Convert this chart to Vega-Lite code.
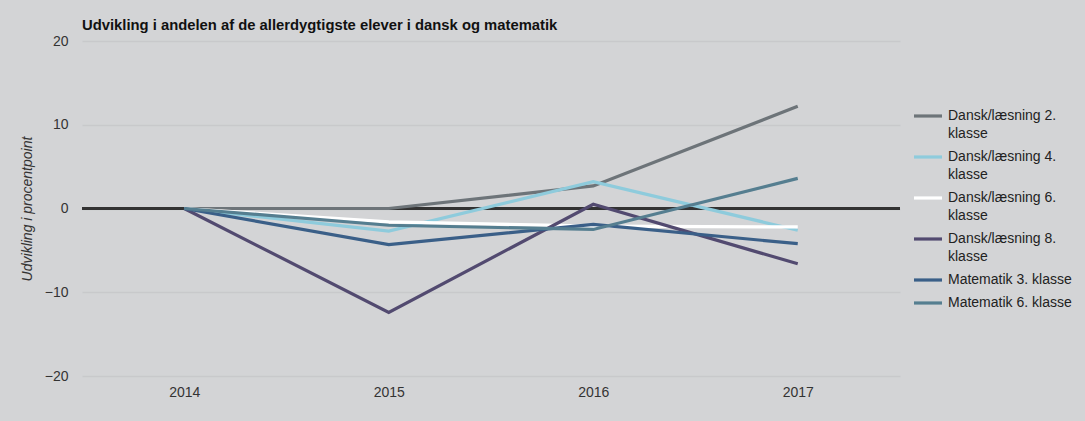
{
  "$schema": "https://vega.github.io/schema/vega-lite/v6.json",
  "width": 818,
  "height": 335,
  "autosize": {"type": "none"},
  "padding": {"left": 82, "top": 41, "right": 185, "bottom": 45},
  "background": "#d3d4d6",
  "title": {
    "text": "Udvikling i andelen af de allerdygtigste elever i dansk og matematik",
    "anchor": "start",
    "frame": "group",
    "font": "Liberation Sans",
    "fontSize": 14.8,
    "fontWeight": "bold",
    "color": "#111111",
    "offset": 1
  },
  "config": {
    "view": {"stroke": null},
    "style": {"guide-label": {"lineHeight": 18}}
  },
  "data": {
    "values": [
      {"series": "Dansk/læsning 2. klasse", "year": "2014", "value": 0},
      {"series": "Dansk/læsning 2. klasse", "year": "2015", "value": 0},
      {"series": "Dansk/læsning 2. klasse", "year": "2016", "value": 2.7},
      {"series": "Dansk/læsning 2. klasse", "year": "2017", "value": 12.2},
      {"series": "Dansk/læsning 4. klasse", "year": "2014", "value": 0},
      {"series": "Dansk/læsning 4. klasse", "year": "2015", "value": -2.7},
      {"series": "Dansk/læsning 4. klasse", "year": "2016", "value": 3.2},
      {"series": "Dansk/læsning 4. klasse", "year": "2017", "value": -2.6},
      {"series": "Dansk/læsning 6. klasse", "year": "2014", "value": 0},
      {"series": "Dansk/læsning 6. klasse", "year": "2015", "value": -1.6},
      {"series": "Dansk/læsning 6. klasse", "year": "2016", "value": -2.1},
      {"series": "Dansk/læsning 6. klasse", "year": "2017", "value": -2.2},
      {"series": "Dansk/læsning 8. klasse", "year": "2014", "value": 0},
      {"series": "Dansk/læsning 8. klasse", "year": "2015", "value": -12.4},
      {"series": "Dansk/læsning 8. klasse", "year": "2016", "value": 0.5},
      {"series": "Dansk/læsning 8. klasse", "year": "2017", "value": -6.6},
      {"series": "Matematik 3. klasse", "year": "2014", "value": 0},
      {"series": "Matematik 3. klasse", "year": "2015", "value": -4.3},
      {"series": "Matematik 3. klasse", "year": "2016", "value": -1.9},
      {"series": "Matematik 3. klasse", "year": "2017", "value": -4.2},
      {"series": "Matematik 6. klasse", "year": "2014", "value": 0},
      {"series": "Matematik 6. klasse", "year": "2015", "value": -2.0},
      {"series": "Matematik 6. klasse", "year": "2016", "value": -2.5},
      {"series": "Matematik 6. klasse", "year": "2017", "value": 3.6}
    ]
  },
  "layer": [
    {
      "mark": {"type": "rule", "color": "#333333", "strokeWidth": 2},
      "encoding": {
        "y": {"datum": 0, "type": "quantitative", "title": "Udvikling i procentpoint"}
      }
    },
    {
      "mark": {"type": "line", "strokeWidth": 3.2},
      "encoding": {
        "x": {
          "field": "year",
          "type": "ordinal",
          "scale": {"type": "point", "padding": 0.5},
          "axis": {
            "title": null,
            "labelAngle": 0,
            "labelFont": "Liberation Sans",
            "labelFontSize": 14,
            "labelColor": "#333333",
            "labelPadding": 9,
            "ticks": false,
            "domain": false,
            "grid": false
          }
        },
        "y": {
          "field": "value",
          "type": "quantitative",
          "scale": {"domain": [-20, 20]},
          "title": "Udvikling i procentpoint",
          "axis": {
            "values": [-20, -10, 0, 10, 20],
            "grid": true,
            "gridColor": "#c8c9cb",
            "gridWidth": 1.5,
            "domain": false,
            "ticks": false,
            "labelFont": "Liberation Sans",
            "labelFontSize": 14,
            "labelColor": "#333333",
            "labelPadding": 14,
            "titleFont": "Liberation Sans",
            "titleFontSize": 14,
            "titleFontStyle": "italic",
            "titleFontWeight": "normal",
            "titleColor": "#333333",
            "titlePadding": 10
          }
        },
        "color": {
          "field": "series",
          "type": "nominal",
          "scale": {
            "domain": ["Dansk/læsning 2. klasse", "Dansk/læsning 4. klasse", "Dansk/læsning 6. klasse", "Dansk/læsning 8. klasse", "Matematik 3. klasse", "Matematik 6. klasse"],
            "range": ["#6d7479", "#8ecbdc", "#ffffff", "#524a70", "#3a5f88", "#557e90"]
          },
          "legend": {
            "orient": "none",
            "legendX": 830,
            "legendY": 59,
            "padding": 0,
            "title": null,
            "symbolType": "stroke",
            "symbolSize": 784,
            "symbolStrokeWidth": 3.2,
            "labelFont": "Liberation Sans",
            "labelFontSize": 14,
            "labelColor": "#222222",
            "labelOffset": 4,
            "labelLimit": 200,
            "rowPadding": 0,
            "labelExpr": "test(/^Dansk/, datum.label) ? [replace(datum.label, ' klasse', ''), 'klasse'] : datum.label"
          }
        }
      }
    }
  ]
}
